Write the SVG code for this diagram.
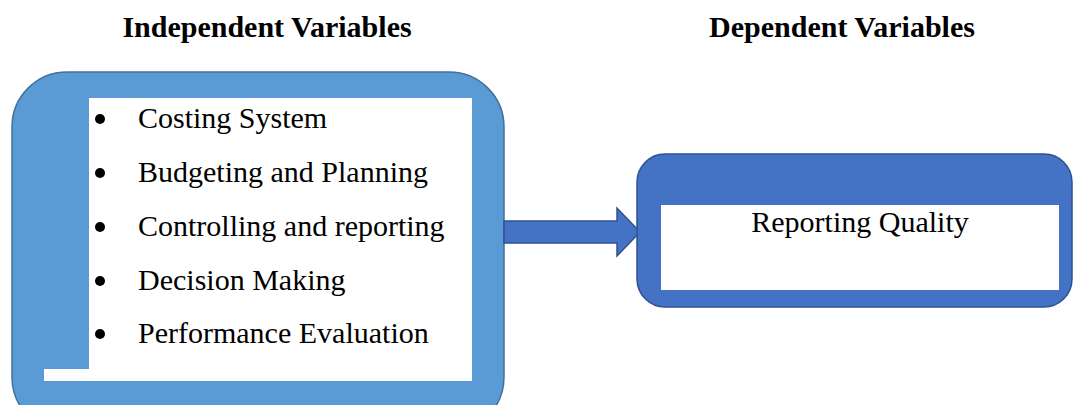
<svg xmlns="http://www.w3.org/2000/svg" width="1073" height="405" viewBox="0 0 1073 405">
<style>
.title{font-family:"Liberation Serif","Times New Roman",serif;font-weight:bold;font-size:30px;fill:#000;text-anchor:middle}
.item{font-family:"Liberation Serif","Times New Roman",serif;font-size:30px;fill:#000}
.dot{fill:#000}
</style>
<rect width="1073" height="405" fill="#fff"/>
<text class="title" x="267" y="37">Independent Variables</text>
<text class="title" x="842" y="37">Dependent Variables</text>
<g id="independent">
<rect x="12" y="72" width="492" height="360" rx="55" ry="55" fill="#5B9BD5" stroke="#41719C" stroke-width="1.5"/>
<rect x="89" y="98" width="383" height="283" fill="#fff"/>
<rect x="44" y="369" width="50" height="12" fill="#fff"/>
<circle class="dot" cx="100" cy="119" r="5"/>
<circle class="dot" cx="100" cy="173" r="5"/>
<circle class="dot" cx="100" cy="227" r="5"/>
<circle class="dot" cx="100" cy="281" r="5"/>
<circle class="dot" cx="100" cy="334" r="5"/>
<text class="item" x="138" y="128">Costing System</text>
<text class="item" x="138" y="182">Budgeting and Planning</text>
<text class="item" x="138" y="236">Controlling and reporting</text>
<text class="item" x="138" y="290">Decision Making</text>
<text class="item" x="138" y="343">Performance Evaluation</text>
</g>
<g id="connectors">
<path d="M504,221 H617 V208 L640,232 L617,256 V243 H504 Z" fill="#4472C4" stroke="#2F528F" stroke-width="1.5"/>
</g>
<g id="dependent">
<rect x="637" y="154" width="435" height="153" rx="28" ry="28" fill="#4472C4" stroke="#2F528F" stroke-width="1.5"/>
<rect x="661" y="205" width="398" height="85" fill="#fff"/>
<text class="item" x="860" y="232" text-anchor="middle">Reporting Quality</text>
</g>
</svg>
